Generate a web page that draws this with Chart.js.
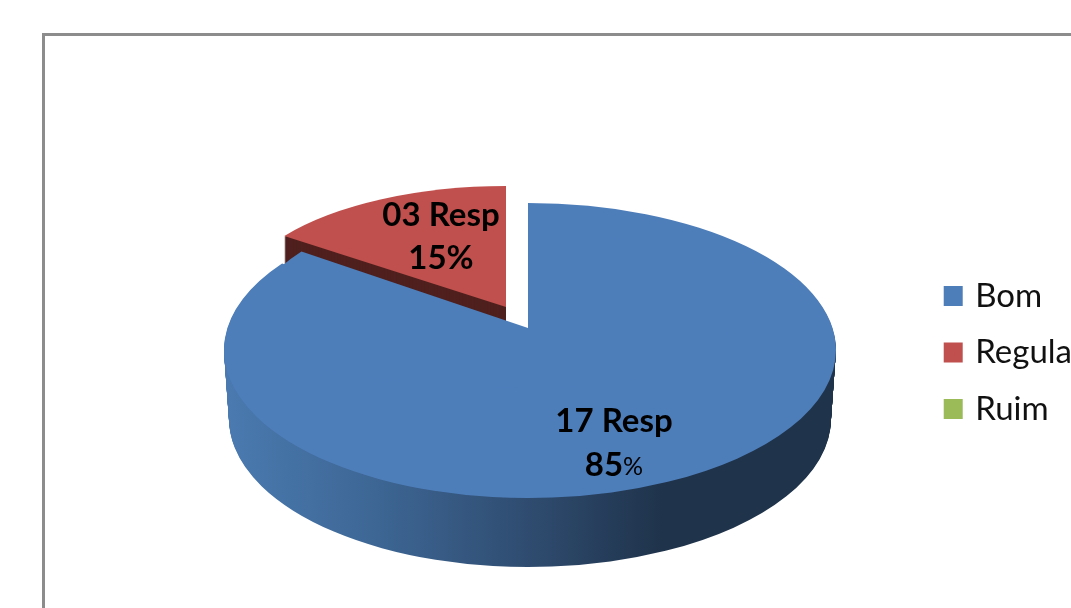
<!DOCTYPE html>
<html>
<head>
<meta charset="utf-8">
<style>
  html, body { margin: 0; padding: 0; background: #fff; overflow: hidden; width: 1071px; height: 608px; }
  canvas { position: absolute; left: 0; top: 0; filter: blur(0.5px); }
  #frame { position: absolute; left: 42px; top: 33px; width: 1400px; height: 900px; border: 3px solid #8c8c8c; filter: blur(0.5px); }
</style>
<script src="https://cdn.jsdelivr.net/npm/chart.js@4/dist/chart.umd.min.js"></script>
</head>
<body>
<div id="frame"></div>
<canvas id="pieChart" width="1094" height="705"></canvas>
<script>
// Values
const categories = ['Bom', 'Regular', 'Ruim'];
const respondents = [17, 3, 0];
const respLabels = ['17 Resp', '03 Resp', ''];
const pctLabels = ['85', '15', ''];
const topColors = ['#4E7EBA', '#C0504D', '#9BBB59'];

// Where each slice's centre sits on the page, and the size of its tilted ellipse
const sliceShapes = [
    { cx: 528, cy: 350, left: 304, right: 308, up: 147, upLeft: 147, down: 148, depth: 69, shrink: 5 },
    { cx: 506, cy: 307, left: 274, right: 274, up: 121, upLeft: 121, down: 121, depth: 30, shrink: 0 }
];
// perspective lifts the tip of the big slice above its ellipse centre, this fills that part
const tipShape = { cx: 528, cy: 328, left: 280, right: 200, up: 100, upLeft: 130, down: 60 };
const labelOffsets = [
    { x: 86, y1: 71, y2: 115 },
    { x: -65, y1: -92, y2: -49 }
];
const labelFont = 'Lato, "Open Sans", sans-serif';

// Draws one arc squeezed into its ellipse, one quadrant at a time
function drawArc(ctx, arc, shape, fill, drop, shrink) {
    const ghost = Object.create(arc);
    ghost.options = { ...arc.options, backgroundColor: fill, borderWidth: 0 };
    const y = shape.cy + drop;
    const quads = [
        [-2000, -2000, shape.left - shrink, shape.upLeft],
        [0, -2000, shape.right - shrink, shape.up],
        [-2000, 0, shape.left - shrink, shape.down],
        [0, 0, shape.right - shrink, shape.down]
    ];
    quads.forEach(([qx, qy, rx, ry]) => {
        ctx.save();
        ctx.beginPath();
        ctx.rect(shape.cx + qx, y + qy, 2000, 2000);
        ctx.clip();
        ctx.translate(shape.cx, y);
        ctx.scale(rx / arc.outerRadius, ry / arc.outerRadius);
        ctx.translate(-arc.x, -arc.y);
        ghost.draw(ctx);
        ctx.restore();
    });
}

function wallFill(ctx, arc, index) {
    if (index === 1) return '#4F201E';
    const g = ctx.createLinearGradient(arc.x - arc.outerRadius, 0, arc.x + arc.outerRadius, 0);
    g.addColorStop(0, '#4A7AB0');
    g.addColorStop(0.25, '#3D6694');
    g.addColorStop(0.5, '#2F4C70');
    g.addColorStop(0.72, '#1F334B');
    g.addColorStop(1, '#1F334B');
    return g;
}

const pie3d = {
    id: 'pie3d',
    // the slices are painted here, so the default flat pie is skipped
    beforeDatasetDraw(chart) {
        const ctx = chart.ctx;
        const arcs = chart.getDatasetMeta(0).data;
        [1, 0].forEach(i => {
            const arc = arcs[i];
            const shape = sliceShapes[i];
            const wall = wallFill(ctx, arc, i);
            for (let d = shape.depth; d > 0; d--) {
                drawArc(ctx, arc, shape, wall, d, shape.shrink * d / shape.depth);
            }
            drawArc(ctx, arc, shape, topColors[i], 0, 0);
            if (i === 0) drawArc(ctx, arc, tipShape, topColors[i], 0, 0);
        });

        ctx.save();
        ctx.fillStyle = '#000';
        ctx.textAlign = 'center';
        ctx.textBaseline = 'middle';
        sliceShapes.forEach((shape, i) => {
            const off = labelOffsets[i];
            const x = shape.cx + off.x;
            ctx.font = 'bold 33px ' + labelFont;
            ctx.fillText(respLabels[i], x, shape.cy + off.y1);
            if (i === 0) {
                // the first slice has a thin, smaller percent sign
                const w1 = ctx.measureText(pctLabels[i]).width;
                ctx.font = '25px ' + labelFont;
                const w2 = ctx.measureText('%').width;
                ctx.textAlign = 'left';
                ctx.fillText('%', x - (w1 + w2) / 2 + w1, shape.cy + off.y2 + 2);
                ctx.font = 'bold 33px ' + labelFont;
                ctx.fillText(pctLabels[i], x - (w1 + w2) / 2, shape.cy + off.y2);
                ctx.textAlign = 'center';
            } else {
                ctx.fillText(pctLabels[i] + '%', x, shape.cy + off.y2);
            }
        });
        ctx.restore();
        return false;
    }
};

new Chart(document.getElementById('pieChart').getContext('2d'), {
    type: 'pie',
    data: {
        labels: categories,
        datasets: [{ data: respondents, backgroundColor: topColors, borderWidth: 0 }]
    },
    options: {
        responsive: false,
        animation: false,
        plugins: {
            tooltip: { enabled: false },
            legend: {
                position: 'right',
                labels: {
                    boxWidth: 11,
                    boxHeight: 12,
                    padding: 23.5,
                    color: '#111',
                    font: { family: labelFont, size: 33 },
                    generateLabels(chart) {
                        return Chart.overrides.pie.plugins.legend.labels.generateLabels(chart).map(item => ({
                            ...item,
                            strokeStyle: item.fillStyle,
                            lineWidth: 8
                        }));
                    }
                }
            }
        }
    },
    plugins: [pie3d]
});
</script>
</body>
</html>
